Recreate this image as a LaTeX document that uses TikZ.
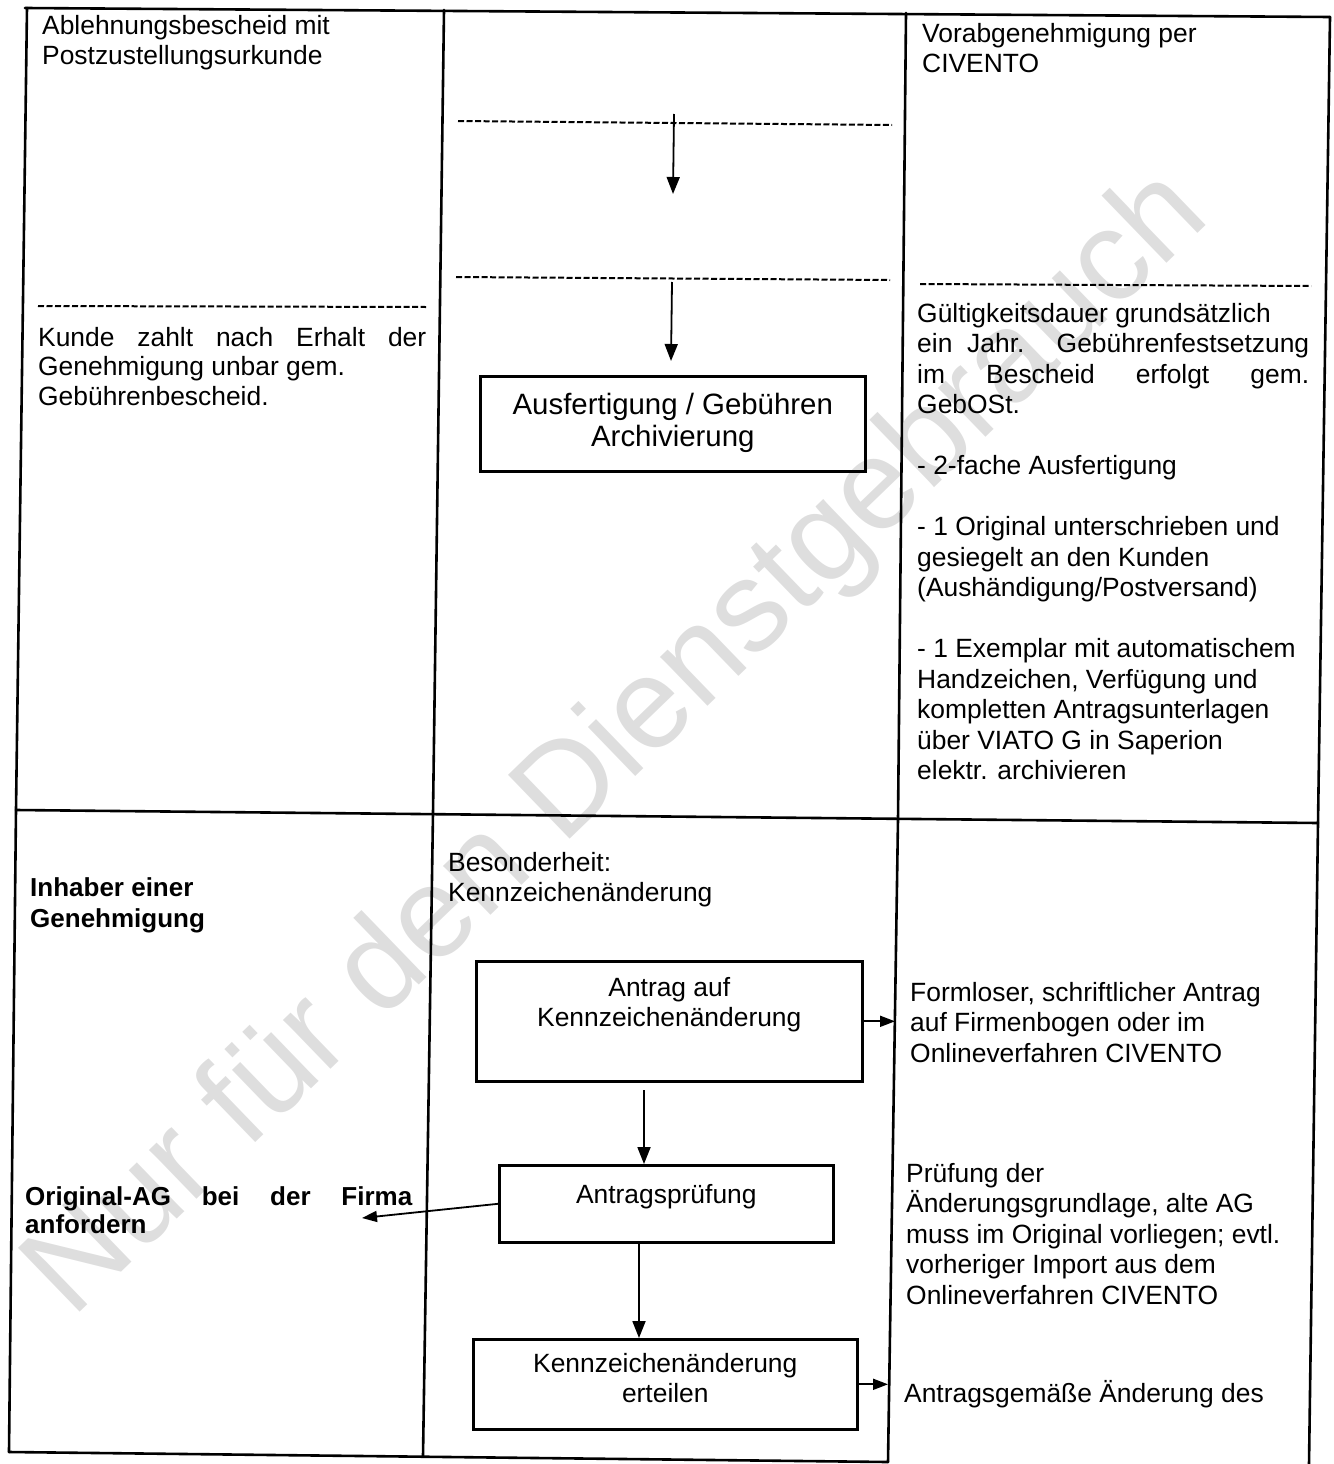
\documentclass[tikz,border=0pt]{standalone}
\usepackage{fontspec}
\setmainfont{Liberation Sans}
\usetikzlibrary{arrows.meta,calc}
\newcommand{\bxt}[4]{\parbox[c][#2][t]{#1}{\centering\vspace*{#3}#4}}
\begin{document}
\begin{tikzpicture}[x=1pt,y=-1pt,
  every node/.style={font=\fontsize{26.4}{30.5}\selectfont},
  tline/.style={line width=2.6pt,line cap=round},
  dline/.style={line width=2pt,dash pattern=on 6pt off 2.5pt},
  arr/.style={line width=1.8pt,-{Triangle[length=17pt,width=13pt]}},
  arrs/.style={line width=1.8pt,-{Triangle[length=15pt,width=11pt]}},
  flowbox/.style={draw,line width=2.6pt,inner sep=0pt,anchor=north west},
  txt/.style={inner sep=0pt,anchor=north west,align=left},
  btxt/.style={txt,font=\bfseries\fontsize{26}{31}\selectfont},
  wm/.style={inner sep=0pt,anchor=base west,rotate=44,text=black!13,
    font=\fontsize{129}{129}\selectfont}]
\useasboundingbox (0,0) rectangle (1333,1464);
% watermark
\node[wm] (wm) at (72,1320) {Nur für den Dienstgebrauch};
% table lines
\draw[tline] (25,8) -- (1330,17);
\draw[tline] (27,8) -- (16,810) -- (9,1452);
\draw[tline] (444,10) -- (433,813) -- (423,1456);
\draw[tline] (906,13) -- (898,819) -- (888,1462);
\draw[tline] (1330,17) -- (1318,823) -- (1309,1464);
\draw[tline] (16,810) -- (1318,823);
\draw[tline] (9,1452) -- (888,1462);
% dashed separators
\draw[dline] (38,306) -- (426,307);
\draw[dline] (458,121) -- (892,125);
\draw[dline] (456,277) -- (890,280);
\draw[dline] (920,284) -- (1311,286);
% top-left
\node[txt] (tl1) at (42,15) {Ablehnungsbescheid mit\\Postzustellungsurkunde};
\node[txt,font=\fontsize{26.4}{29.5}\selectfont] (tl2) at (38,327)
  {\makebox[388pt][s]{Kunde zahlt nach Erhalt der}\\Genehmigung unbar gem.\\Gebührenbescheid.};
% top-right
\node[txt] (tr1) at (922,23) {Vorabgenehmigung per\\CIVENTO};
\node[txt] (tr2) at (917,303) {Gültigkeitsdauer grundsätzlich\\
  \makebox[392pt][s]{ein Jahr. Gebührenfestsetzung}\\
  \makebox[392pt][s]{im Bescheid erfolgt gem.}\\
  GebOSt.\\[30.5pt]
  - 2-fache Ausfertigung\\[30.5pt]
  - 1 Original unterschrieben und\\gesiegelt an den Kunden\\(Aushändigung/Postversand)\\[30.5pt]
  - 1 Exemplar mit automatischem\\Handzeichen, Verfügung und\\kompletten Antragsunterlagen\\über VIATO G in Saperion\\elektr. archivieren};
% top-middle flow
\node[flowbox,font=\fontsize{29.4}{32}\selectfont] (box0) at (479,375)
  {\bxt{385pt}{95pt}{17pt}{Ausfertigung / Gebühren\\Archivierung}};
\coordinate (a1s) at (674,114);
\coordinate (a1e) at (673,194);
\coordinate (a2s) at (672,282);
\coordinate (a2e) at (671,361);
\draw[arr] (a1s) -- (a1e);
\draw[arr] (a2s) -- (a2e);
% bottom-left
\node[btxt] (bl1) at (30,877) {Inhaber einer\\Genehmigung};
\node[btxt,font=\bfseries\fontsize{26}{28}\selectfont] (bl2) at (25,1186)
  {\makebox[387pt][s]{Original-AG bei der Firma}\\anfordern};
% bottom-middle
\node[txt] (bm1) at (448,852) {Besonderheit:\\Kennzeichenänderung};
\node[flowbox] (box1) at (475,960)
  {\bxt{386pt}{120pt}{16pt}{Antrag auf\\Kennzeichenänderung}};
\node[flowbox] (box2) at (498,1164)
  {\bxt{334pt}{77pt}{19pt}{Antragsprüfung}};
\node[flowbox] (box3) at (472,1338)
  {\bxt{384pt}{90pt}{14pt}{Kennzeichenänderung\\erteilen}};
% bottom-right
\node[txt] (br1) at (910,982) {Formloser, schriftlicher Antrag\\auf Firmenbogen oder im\\Onlineverfahren CIVENTO};
\node[txt] (br2) at (906,1163) {Prüfung der\\Änderungsgrundlage, alte AG\\muss im Original vorliegen; evtl.\\vorheriger Import aus dem\\Onlineverfahren CIVENTO};
\node[txt] (br3) at (904,1380) {Antragsgemäße Änderung des};
% bottom connectors
\coordinate (k1) at (644,1090);
\coordinate (k2) at (639,1241);
\coordinate (otip) at (362,1218);
\coordinate (rc1) at (895,1025);
\coordinate (rc3) at (888,1388);
\draw[arr] (k1) -- (k1 |- box2.north);
\draw[arr] (k2) -- (k2 |- box3.north);
\draw[arrs] (box2.west) -- (otip);
\draw[arrs] (box1.east) -- (box1.east -| rc1);
\draw[arrs] (box3.east) -- (box3.east -| rc3);
\end{tikzpicture}
\end{document}
